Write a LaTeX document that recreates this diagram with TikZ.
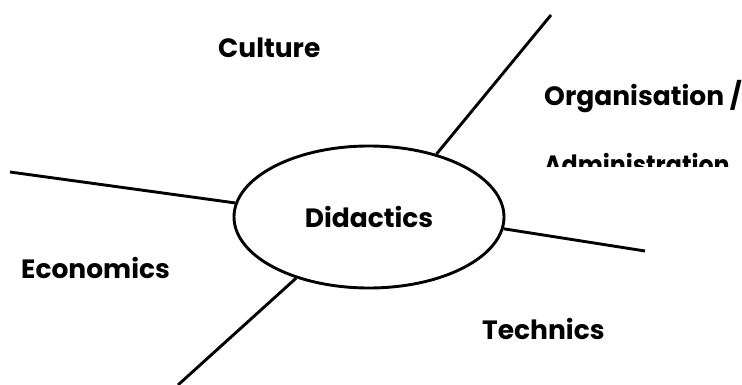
\documentclass[tikz,border=0pt]{standalone}
\usepackage{fontspec}
\setmainfont{Poppins}
\usetikzlibrary{shapes.geometric}
\tikzset{
  lbl/.style={anchor=base west, inner sep=0pt, font=\fontsize{26.5pt}{30pt}\selectfont\bfseries},
  spoke/.style={line width=2.9pt},
  hub/.style={ellipse, draw, line width=2.9pt, minimum width=270pt, minimum height=142pt, inner sep=0pt, font=\fontsize{26.5pt}{30pt}\selectfont\bfseries}
}
\begin{document}
\begin{tikzpicture}[x=1pt,y=-1pt]
\useasboundingbox (0,0) rectangle (742,385);
\node[hub] (ell) at (369,217) {Didactics};
\coordinate (ur) at (551,15);
\coordinate (le) at (10,172);
\coordinate (ri) at (645,251);
\coordinate (ll) at (178,385);
\draw[spoke] (ur) -- (ell.43.8);
\draw[spoke] (le) -- (ell.174.6);
\draw[spoke] (ri) -- (ell.-5.5);
\draw[spoke] (ll) -- (ell.220);
\node[lbl] (cul) at (218,58) {Culture};
\node[lbl] (org) at (544,106) {Organisation /};
\begin{scope}
\clip (0,0) rectangle (742,167);
\node[lbl] (adm) at (544,175) {\scalebox{0.895}[1]{Administration}};
\end{scope}
\node[lbl] (eco) at (21,278) {Economics};
\node[lbl] (tec) at (482,339) {Technics};
\end{tikzpicture}
\end{document}
